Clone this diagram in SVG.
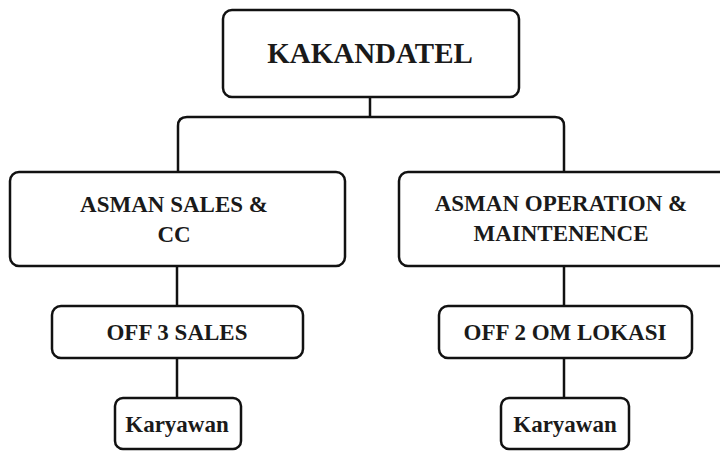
<svg xmlns="http://www.w3.org/2000/svg" width="720" height="451" viewBox="0 0 720 451">
<style>
.box{fill:#fff;stroke:#111;stroke-width:2.5}
.ln{fill:none;stroke:#111;stroke-width:2.5}
text{font-family:"Liberation Serif","Times New Roman",serif;font-weight:bold;fill:#1a1a1a;text-anchor:middle}
.t1{font-size:29px}
.t2{font-size:23px}
</style>
<rect width="720" height="451" fill="#fff"/>
<g id="connectors">
<path class="ln" d="M370,97 V117"/>
<path class="ln" d="M178,172 V126 Q178,117 187,117 H555 Q564,117 564,126 V172"/>
<path class="ln" d="M177,266 V306"/>
<path class="ln" d="M177,358 V398"/>
<path class="ln" d="M564,266 V306"/>
<path class="ln" d="M564,358 V398"/>
</g>
<g id="kakandatel">
<rect class="box" x="223" y="10" width="296" height="87" rx="9"/>
<text class="t1" x="370" y="63">KAKANDATEL</text>
</g>
<g id="asman-sales">
<rect class="box" x="10" y="172" width="335" height="94" rx="9"/>
<text class="t2" x="174" y="212">ASMAN SALES &amp;</text>
<text class="t2" x="174" y="242">CC</text>
</g>
<g id="asman-operation">
<rect class="box" x="399" y="172" width="335" height="94" rx="9"/>
<text class="t2" x="561" y="211">ASMAN OPERATION &amp;</text>
<text class="t2" x="561" y="241">MAINTENENCE</text>
</g>
<g id="off3-sales">
<rect class="box" x="52" y="306" width="251" height="52" rx="9"/>
<text class="t2" x="177" y="340">OFF 3 SALES</text>
</g>
<g id="off2-om">
<rect class="box" x="439" y="306" width="253" height="52" rx="9"/>
<text class="t2" x="565" y="340">OFF 2 OM LOKASI</text>
</g>
<g id="karyawan-1">
<rect class="box" x="115" y="398" width="126" height="51" rx="8"/>
<text class="t2" x="177" y="432">Karyawan</text>
</g>
<g id="karyawan-2">
<rect class="box" x="501" y="398" width="128" height="51" rx="8"/>
<text class="t2" x="565" y="432">Karyawan</text>
</g>
</svg>
